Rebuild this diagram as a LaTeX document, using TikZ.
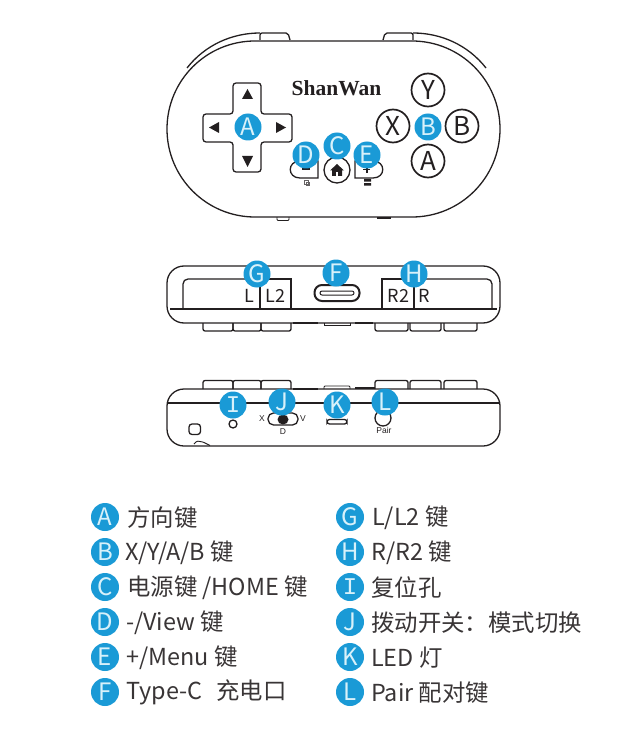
\documentclass[tikz,border=0pt]{standalone}
\usepackage{fontspec}
\setmainfont{Noto Sans CJK SC}
\newfontfamily\serifbold{Liberation Serif}
\newfontfamily\arialf{Liberation Sans}
\newfontfamily\monof{Liberation Mono}
\definecolor{badgeblue}{HTML}{1A9AD6}
\definecolor{badgetext}{HTML}{D8F1FA}
\definecolor{ink}{HTML}{231F20}
\tikzset{
 line/.style={draw=ink,line width=1.3pt},
 thin line/.style={draw=ink,line width=0.9pt},
 badge/.style={circle,fill=badgeblue,draw=none,minimum size=#1,inner sep=0pt,text=badgetext,font=\fontsize{24}{24}\selectfont},
 badge/.default=27pt,
 legend/.style={anchor=west,inner sep=0pt,text=ink!90,font=\fontsize{23.4}{26}\selectfont},
 face/.style={circle,line width=1.7pt,draw=ink,minimum size=33pt,inner sep=0pt,text=ink,font=\fontsize{26}{26}\selectfont},
 tip/.style={fill=ink,draw=none},
 key/.style={inner sep=0pt,text=ink,font=\fontsize{18}{18}\selectfont},
 small/.style={inner sep=0pt,text=ink,font=\arialf\fontsize{8.5}{9}\selectfont},
}
\begin{document}
\begin{tikzpicture}[x=1pt,y=-1pt]
\useasboundingbox (0,0) rectangle (628,738);
% ---------- top view ----------
\draw[line] (260,33) .. controls (232,33) and (205,45) .. (187,68);
\draw[line] (413,33) .. controls (441,33) and (468,45) .. (486,68);
\draw[line,rounded corners=2pt] (260,40) -- (260,33) -- (288,33) -- (290,40);
\draw[line,rounded corners=2pt] (413,40) -- (413,33) -- (385,33) -- (383,40);
\draw[line,rounded corners=88pt] (167,41) rectangle (500,217);
\draw[thin line,rounded corners=1pt] (277,217) -- (277,220.5) -- (289,220.5) -- (289,217);
\draw[line width=2pt,draw=ink] (377,217.5) -- (391,217.5);
% d-pad
\draw[line,rounded corners=3pt] (233,114) -- (233,83) -- (261,83) -- (261,114) -- (292,114) -- (292,142) -- (261,142) -- (261,172) -- (233,172) -- (233,142) -- (203,142) -- (203,114) -- cycle;
\fill[tip] (247.5,89) -- (253,99) -- (242,99) -- cycle;
\fill[tip] (247.5,167) -- (253,156) -- (242,156) -- cycle;
\fill[tip] (209,127.5) -- (219,122) -- (219,133) -- cycle;
\fill[tip] (286,127.5) -- (276,122) -- (276,133) -- cycle;
\node[badge] (badgeA) at (248,127) {A};
\node[inner sep=0pt,text=ink,font=\serifbold\bfseries\fontsize{21.5}{22}\selectfont] (brand) at (336.5,88) {ShanWan};
% face buttons
\node[face] (btnY) at (428,90) {Y};
\node[face] (btnX) at (393,126) {X};
\node[face] (btnB) at (462,126) {B};
\node[face] (btnA) at (428,161) {A};
\node[badge] (badgeB) at (428,127) {B};
% small buttons
\draw[line] (318,161) -- (318,178) -- (300,178) .. controls (287,178) and (287,161) .. (300,161) -- cycle;
\draw[line] (355,161) -- (355,178) -- (373,178) .. controls (386,178) and (386,161) .. (373,161) -- cycle;
\fill[ink] (302,168) rectangle (310,170);
\fill[ink] (363,169) rectangle (370,170.5);
\fill[ink] (366,166) rectangle (367.5,173);
\node[circle,line,minimum size=26pt,inner sep=0pt] (home) at (337,170) {};
\fill[tip] (337,164) -- (344,170.5) -- (342,170.5) -- (342,176) -- (332,176) -- (332,170.5) -- (330,170.5) -- cycle;
\fill[white] (335.7,172) rectangle (338.3,176);
\draw[draw=ink!70,line width=0.6pt] (304,180) rectangle (308.5,184) (306,182) rectangle (309.5,185.5);
\fill[ink] (364,179) rectangle (371,181.5) (364,183) rectangle (371,185.5);
\node[badge] (badgeD) at (306,155) {D};
\node[badge] (badgeC) at (337,146) {C};
\node[badge] (badgeE) at (367,155) {E};
% ---------- rear view ----------
\draw[line,rounded corners=17pt] (167,266) rectangle (500,323);
\draw[line] (170,309) -- (497,309);
\draw[line,rounded corners=5pt] (183,309) -- (183,279) -- (260,279);
\draw[line] (260,279) -- (291,279) -- (291,309);
\draw[line] (260,279) -- (260,309);
\draw[line,rounded corners=5pt] (414,279) -- (492,279) -- (492,309);
\draw[line] (414,279) -- (382,279) -- (382,309);
\draw[line] (414,279) -- (414,309);
\node[key] (lblL) at (249.5,295.5) {L};
\node[key] (lblL2) at (275.5,295.5) {L2};
\node[key] (lblR2) at (398.5,295.5) {R2};
\node[key] (lblR) at (424,295.5) {R};
\draw[line width=2pt,draw=ink,rounded corners=7.5pt] (314.5,285) rectangle (359.5,301);
\draw[line width=1pt,draw=ink,rounded corners=2pt] (320,291) rectangle (354,295);
\foreach \a/\b in {203/233,233/261,261/291,375/408,410/441,444/477}
  \draw[line,rounded corners=2pt] (\a,323) -- (\a,331) -- (\b,331) -- (\b,323);
\draw[thin line] (324,323) -- (324,325) -- (350,325) -- (350,323);
\draw[line width=2pt,draw=ink] (293,322.5) -- (318,322.5) (355,322.5) -- (373,322.5);
\node[badge] (badgeG) at (257,274) {G};
\node[badge] (badgeF) at (336,273) {F};
\node[badge] (badgeH) at (414,274) {H};
% ---------- front view ----------
\draw[line,rounded corners=17pt] (167,389) rectangle (500,446);
\draw[line width=1.7pt,draw=ink] (168,403) -- (499,403);
\foreach \a/\b in {203/233,233/261,261/291,375/408,410/441,444/477}
  \draw[line,rounded corners=2pt] (\a,389) -- (\a,380.5) -- (\b,380.5) -- (\b,389);
\draw[thin line,rounded corners=1pt] (324,389) -- (324,386) -- (350,386) -- (350,389);
\draw[line width=2pt,draw=ink] (293,389) -- (318,389) (355,388) -- (375,388);
\node[circle,line,minimum size=8pt,inner sep=0pt] (reset) at (233,424) {};
\draw[line,rounded corners=5.5pt] (268,413) rectangle (298,425);
\fill[ink] (283,419.5) ellipse [x radius=5.5,y radius=5];
\node[small] (lblX) at (262,418.5) {X};
\node[small] (lblV) at (303,418.5) {V};
\node[small] (lblD) at (283,432) {D};
\draw[line,rounded corners=2.5pt] (327,419.5) rectangle (347,424);
\node[circle,line,minimum size=16pt,inner sep=0pt] (pair) at (383,418) {};
\node[small] (lblPair) at (384,430.5) {Pair};
\draw[line,rounded corners=3pt] (189,424) rectangle (200.5,434.5);
\draw[thin line,rounded corners=1pt] (194,444) -- (197,441) -- (203,442) -- (210,445.5);
\node[badge] (badgeI) at (233,405) {\monof I};
\node[badge] (badgeJ) at (282,402) {J};
\node[badge] (badgeK) at (337,405) {K};
\node[badge] (badgeL) at (385,402) {L};
% ---------- legend ----------
\foreach \n/\t/\y/\o in {
  A/{方向键}/517/127, B/{X/Y/A/B 键}/552/125, C/{电源键 /HOME 键}/587/127,
  D/{-/View 键}/622/126, E/{+/Menu 键}/657/126, F/{Type-C\hspace{9pt} 充电口}/692/126}{
  \node[badge=28pt] (leg\n) at (105,\y) {\n};
  \node[legend] (txt\n) at (\o,\y+0.8) {\t};
}
\foreach \n/\t/\y/\o in {
  G/{L/L2 键}/517/372, H/{R/R2 键}/552/371, J/{拨动开关：模式切换}/622/371,
  K/{LED 灯}/657/371, L/{Pair 配对键}/692/371}{
  \node[badge=28pt] (leg\n) at (350,\y) {\n};
  \node[legend] (txt\n) at (\o,\y+0.8) {\t};
}
\node[badge=28pt] (legI) at (350,587) {\monof I};
\node[legend] (txtI) at (371,587.8) {复位孔};
\end{tikzpicture}
\end{document}
